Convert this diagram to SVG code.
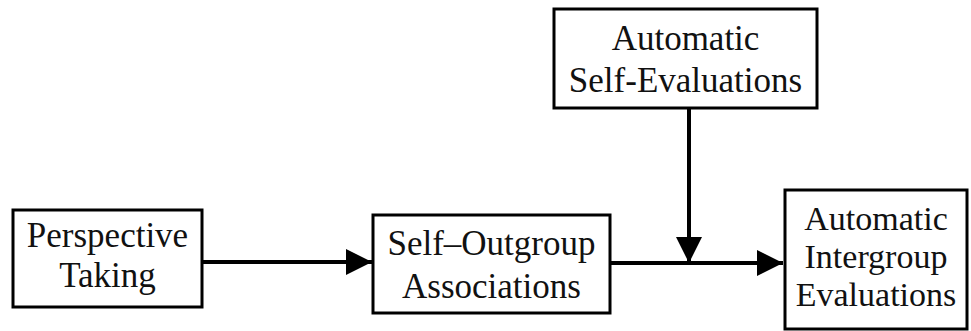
<svg xmlns="http://www.w3.org/2000/svg" width="971" height="331" viewBox="0 0 971 331">
<defs>
<style>
.box{fill:#fff;stroke:#000;stroke-width:3}
.t{font-family:"Liberation Serif","Times New Roman",serif;font-size:35px;fill:#111;text-anchor:middle}
.t4{font-size:34px}
.c{stroke:#000;stroke-width:4;fill:none}
</style>
<marker id="ah" markerUnits="userSpaceOnUse" markerWidth="27" markerHeight="27" refX="26" refY="13" orient="auto">
<path d="M0,0 L26,13 L0,26 z" fill="#000"/>
</marker>
</defs>
<rect width="971" height="331" fill="#fff"/>
<g id="connectors">
<line class="c" x1="203" y1="262" x2="372" y2="262" marker-end="url(#ah)"/>
<line class="c" x1="611" y1="263" x2="783" y2="263" marker-end="url(#ah)"/>
<line class="c" x1="689" y1="109" x2="689" y2="263" marker-end="url(#ah)"/>
</g>
<g id="perspective-taking">
<rect class="box" x="13" y="210" width="189" height="97"/>
<text class="t" x="107.5" y="247">Perspective</text>
<text class="t" x="107.5" y="287">Taking</text>
</g>
<g id="self-outgroup">
<rect class="box" x="373" y="215" width="237" height="98"/>
<text class="t" x="491.5" y="255">Self–Outgroup</text>
<text class="t" x="491.5" y="298">Associations</text>
</g>
<g id="self-evaluations">
<rect class="box" x="554" y="9" width="263" height="99"/>
<text class="t" x="685.5" y="50">Automatic</text>
<text class="t" x="685.5" y="92">Self-Evaluations</text>
</g>
<g id="intergroup-evaluations">
<rect class="box" x="785" y="190" width="182" height="139"/>
<text class="t t4" x="876" y="230">Automatic</text>
<text class="t t4" x="876" y="268">Intergroup</text>
<text class="t t4" x="876" y="306">Evaluations</text>
</g>
</svg>
